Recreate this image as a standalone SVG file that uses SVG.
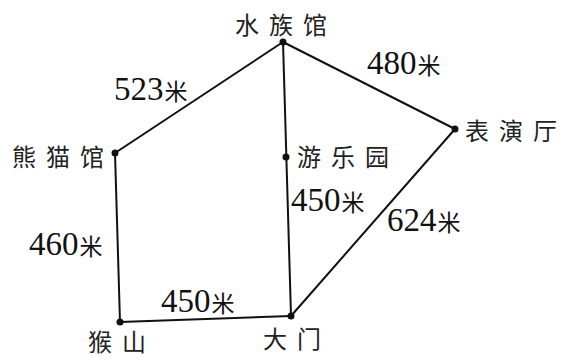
<svg xmlns="http://www.w3.org/2000/svg" width="566" height="361" viewBox="0 0 566 361">
<style>
.e{stroke:#111;stroke-width:2;fill:none;stroke-linecap:round}
.d{fill:#111}
.l{font-family:"Noto Sans CJK SC","Noto Sans",sans-serif;font-size:24px;fill:#222;letter-spacing:10px}
.n{font-family:"Liberation Serif",serif;font-size:33px;fill:#111}
.u{font-family:"Noto Sans CJK SC",sans-serif;font-size:23px}
</style>
<rect width="566" height="361" fill="#fff"/>
<g id="connectors">
<line class="e" x1="283" y1="42" x2="115" y2="153"/>
<line class="e" x1="283" y1="42" x2="455" y2="129"/>
<line class="e" x1="283" y1="42" x2="291" y2="316"/>
<line class="e" x1="115" y1="153" x2="120" y2="322"/>
<line class="e" x1="120" y1="322" x2="291" y2="316"/>
<line class="e" x1="291" y1="316" x2="455" y2="129"/>
</g>
<g id="n-aquarium"><circle class="d" cx="283" cy="42" r="3.5"/><text class="l" x="235" y="34">水族馆</text></g>
<g id="n-panda"><circle class="d" cx="115" cy="153" r="3.5"/><text class="l" x="12" y="166">熊猫馆</text></g>
<g id="n-show"><circle class="d" cx="455" cy="129" r="3.5"/><text class="l" x="465" y="140">表演厅</text></g>
<g id="n-park"><circle class="d" cx="286" cy="157" r="3.5"/><text class="l" x="297" y="166">游乐园</text></g>
<g id="n-monkey"><circle class="d" cx="120" cy="322" r="3.5"/><text class="l" x="88" y="351">猴山</text></g>
<g id="n-gate"><circle class="d" cx="291" cy="316" r="3.5"/><text class="l" x="263" y="348">大门</text></g>
<g id="labels">
<text class="n" x="114" y="100"><tspan font-family="Liberation Serif">523</tspan><tspan class="u" dx="1">米</tspan></text>
<text class="n" x="367" y="74"><tspan font-family="Liberation Serif">480</tspan><tspan class="u" dx="1">米</tspan></text>
<text class="n" x="291" y="211"><tspan font-family="Liberation Serif">450</tspan><tspan class="u" dx="1">米</tspan></text>
<text class="n" x="387" y="231"><tspan font-family="Liberation Serif">624</tspan><tspan class="u" dx="1">米</tspan></text>
<text class="n" x="29" y="255"><tspan font-family="Liberation Serif">460</tspan><tspan class="u" dx="1">米</tspan></text>
<text class="n" x="161" y="312"><tspan font-family="Liberation Serif">450</tspan><tspan class="u" dx="1">米</tspan></text>
</g>
</svg>
